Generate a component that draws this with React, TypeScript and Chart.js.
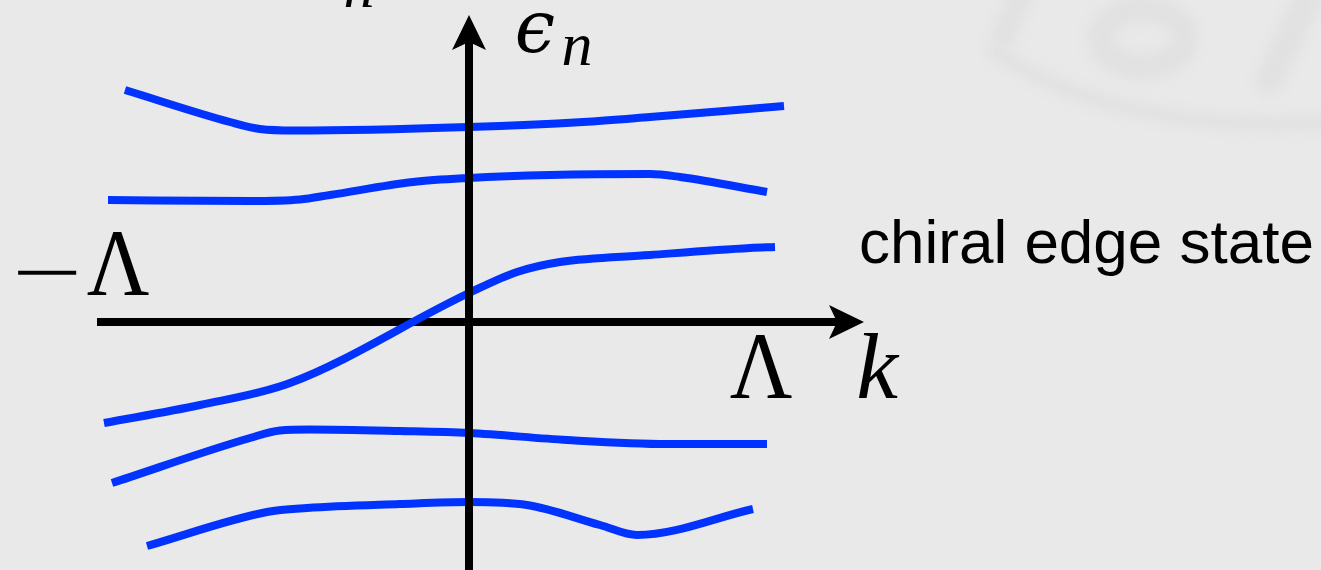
import React, { useEffect, useRef } from "react";
import { Chart, registerables } from "chart.js";

Chart.register(...registerables);

const W = 1321;
const H = 570;

// Momentum k and energy ε_n for each band (axes cross at k = 0, ε = 0)
const band1K = [-3.44, -2.39, -2.09, -1.74, 0, 1.14, 1.81, 3.15];
const band1E = [2.32, 2.0, 1.93, 1.915, 1.95, 2.0, 2.05, 2.16];

const band2K = [-3.61, -2.19, -1.69, -1.39, -0.56, 0, 0.81, 1.81, 2.11, 2.98];
const band2E = [1.22, 1.21, 1.225, 1.27, 1.4, 1.44, 1.47, 1.48, 1.45, 1.3];

// chiral edge state crossing ε = 0
const band3K = [-3.65, -2.69, -1.79, 0, 0.48, 0.91, 1.81, 2.81, 3.06];
const band3E = [-1.01, -0.83, -0.61, 0.29, 0.5, 0.6, 0.67, 0.74, 0.75];

const band4K = [-3.57, -2.19, -1.89, -1.59, -0.69, 0, 0.98, 1.98, 2.98];
const band4E = [-1.61, -1.16, -1.085, -1.075, -1.09, -1.11, -1.18, -1.22, -1.22];

const band5K = [-3.22, -2.02, -1.62, -0.69, 0, 0.58, 1.31, 1.68, 2.84];
const band5E = [-2.24, -1.9, -1.86, -1.82, -1.8, -1.83, -2.03, -2.13, -1.87];

const bandKs = [band1K, band2K, band3K, band4K, band5K];
const bandEs = [band1E, band2E, band3E, band4E, band5E];

// axis extents and cutoff
const kAxisStart = -3.72;
const kAxisEnd = 3.95;
const eAxisEnd = 3.07;
const cutoff = 2.92;

const xRange = { min: -4.69, max: 8.52 };
const yRange = { min: -2.48, max: 3.22 };

const BLUE = "#0033ff";
const BG = "#e9e9e9";

function drawScaledText(ctx: CanvasRenderingContext2D, text: string, x: number, y: number, sx: number, sy: number) {
  ctx.save();
  ctx.translate(x, y);
  ctx.scale(sx, sy);
  ctx.fillText(text, 0, 0);
  ctx.restore();
}

const diagramPlugin = {
  id: "bandDiagram",
  beforeDraw(chart: any) {
    const ctx = chart.ctx;
    ctx.save();
    ctx.fillStyle = BG;
    ctx.fillRect(0, 0, chart.width, chart.height);

    // faint blurred seal in the corner
    ctx.filter = "blur(6px)";
    ctx.strokeStyle = "#e1e1e1";
    ctx.lineCap = "round";
    ctx.lineWidth = 14;
    ctx.beginPath();
    ctx.moveTo(995, 52);
    ctx.quadraticCurveTo(1120, 135, 1330, 122);
    ctx.stroke();
    ctx.lineWidth = 26;
    ctx.beginPath();
    ctx.ellipse(1143, 38, 42, 29, 0, 0, Math.PI * 2);
    ctx.stroke();
    ctx.lineWidth = 24;
    ctx.beginPath();
    ctx.moveTo(1022, -8);
    ctx.lineTo(1003, 36);
    ctx.stroke();
    ctx.lineWidth = 28;
    ctx.beginPath();
    ctx.moveTo(1310, -8);
    ctx.lineTo(1270, 80);
    ctx.stroke();
    ctx.restore();
  },
  beforeDatasetsDraw(chart: any) {
    const ctx = chart.ctx;
    const xs = chart.scales.x;
    const ys = chart.scales.y;
    const y0 = ys.getPixelForValue(0);
    const xa = xs.getPixelForValue(kAxisStart);
    const xb = xs.getPixelForValue(kAxisEnd);
    ctx.save();
    ctx.fillStyle = "#000";
    ctx.strokeStyle = "#000";
    ctx.lineWidth = 8;
    ctx.beginPath();
    ctx.moveTo(xa, y0);
    ctx.lineTo(xb - 20, y0);
    ctx.stroke();
    // arrowhead on the k axis
    ctx.beginPath();
    ctx.moveTo(xb, y0);
    ctx.lineTo(xb - 35, y0 - 17);
    ctx.lineTo(xb - 27, y0);
    ctx.lineTo(xb - 35, y0 + 17);
    ctx.closePath();
    ctx.fill();
    ctx.restore();
  },
  afterDatasetsDraw(chart: any) {
    const ctx = chart.ctx;
    const xs = chart.scales.x;
    const ys = chart.scales.y;
    const x0 = xs.getPixelForValue(0);
    const yt = ys.getPixelForValue(eAxisEnd);
    ctx.save();
    ctx.fillStyle = "#000";
    ctx.strokeStyle = "#000";
    ctx.lineWidth = 8;
    ctx.beginPath();
    ctx.moveTo(x0, chart.height + 5);
    ctx.lineTo(x0, yt + 20);
    ctx.stroke();
    // arrowhead on the energy axis
    ctx.beginPath();
    ctx.moveTo(x0, yt);
    ctx.lineTo(x0 - 17, yt + 35);
    ctx.lineTo(x0, yt + 27);
    ctx.lineTo(x0 + 17, yt + 35);
    ctx.closePath();
    ctx.fill();

    const y0 = ys.getPixelForValue(0);
    const xL = xs.getPixelForValue(cutoff);
    ctx.textAlign = "center";
    ctx.textBaseline = "alphabetic";

    // cutoff labels
    ctx.font = "96px 'Liberation Serif', 'DejaVu Serif', serif";
    drawScaledText(ctx, "Λ", xL, y0 + 76, 0.9, 1);
    drawScaledText(ctx, "Λ", 118, y0 - 27, 0.9, 1);
    // minus sign, stretched a little wider and thinner
    drawScaledText(ctx, "−", 47, y0 - 50 + 33 * 0.8, 1.3, 0.8);

    // axis names
    ctx.font = "italic 94px 'Liberation Serif', 'DejaVu Serif', serif";
    ctx.fillText("k", 877, y0 + 76);
    ctx.font = "italic 72px 'DejaVu Serif', serif";
    ctx.fillText("ϵ", 535, 52);
    ctx.font = "italic 62px 'Liberation Serif', 'DejaVu Serif', serif";
    ctx.fillText("n", 577, 65);
    ctx.fillText("n", 359, 7);

    ctx.font = "62px 'Liberation Sans', Arial, sans-serif";
    ctx.textAlign = "left";
    ctx.fillText("chiral edge state", 859, 263);
    ctx.restore();
  },
};

export default function App() {
  const canvasRef = useRef<HTMLCanvasElement | null>(null);

  useEffect(() => {
    const canvas = canvasRef.current;
    if (!canvas) return;
    const datasets = bandKs.map((ks, i) => ({
      label: `band ${i + 1}`,
      data: ks.map((k, j) => ({ x: k, y: bandEs[i][j] })),
      borderColor: BLUE,
      backgroundColor: BLUE,
      borderWidth: 8,
      borderCapStyle: "butt" as const,
      borderJoinStyle: "round" as const,
      pointRadius: 0,
      showLine: true,
      fill: false,
      cubicInterpolationMode: "monotone" as const,
    }));
    const chart = new Chart(canvas, {
      type: "scatter",
      data: { datasets },
      options: {
        animation: false,
        responsive: false,
        devicePixelRatio: 1,
        layout: { padding: 0 },
        events: [],
        plugins: {
          legend: { display: false },
          tooltip: { enabled: false },
          title: { display: false },
        },
        scales: {
          x: { type: "linear", display: false, min: xRange.min, max: xRange.max },
          y: { type: "linear", display: false, min: yRange.min, max: yRange.max },
        },
      },
      plugins: [diagramPlugin],
    });
    return () => chart.destroy();
  }, []);

  return (
    <div
      style={{
        position: "fixed",
        left: 0,
        top: 0,
        width: W,
        height: H,
        background: BG,
        overflow: "hidden",
      }}
    >
      <canvas ref={canvasRef} width={W} height={H} style={{ display: "block", width: W, height: H }} />
    </div>
  );
}
